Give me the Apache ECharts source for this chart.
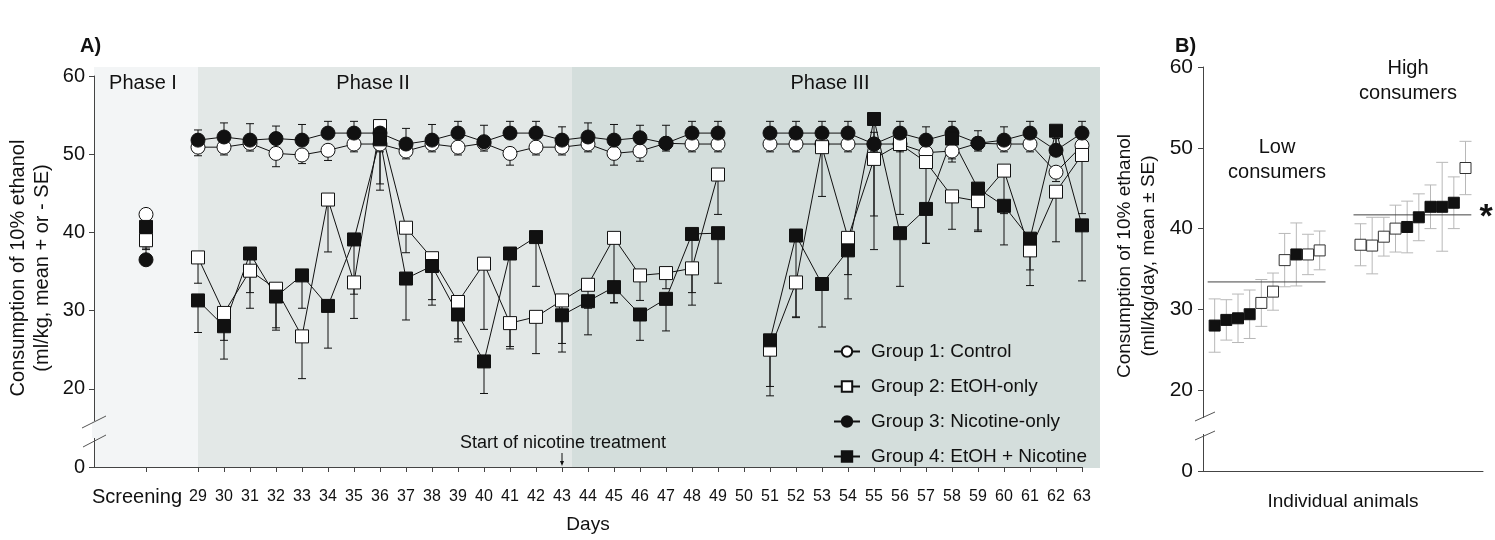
<!DOCTYPE html>
<html lang="en">
<head>
    <meta charset="UTF-8">
    <title>Ethanol consumption</title>
    <style>
        html,body{
            margin: 0;
            padding: 0;
            background: #fff;
        }
        #chart{
            width: 1495px;
            height: 540px;
        }
    </style>
    <script src="https://cdn.jsdelivr.net/npm/echarts@6/dist/echarts.min.js"></script>
</head>
<body>
<div id="chart"></div>
<script>
    // panel A: days on x, screening slot before day 29
    var days = ['29','30','31','32','33','34','35','36','37','38','39','40','41','42','43','44','45','46','47','48','49',
                '50','51','52','53','54','55','56','57','58','59','60','61','62','63'];
    var xCategories = ['pre0', 'pre1', 'Screening', 'pre3'].concat(days);
    var groupNames = ['Group 1: Control', 'Group 2: EtOH-only', 'Group 3: Nicotine-only', 'Group 4: EtOH + Nicotine'];

    // screening values G1..G4
    var screening = [42.3, 39.0, 36.5, 40.7];
    var screeningSe = [0.8, 1.2, 1.5, 1.0];

    var g1Mean = [50.9,50.9,51.4,50.1,49.9,50.5,51.3,51.3,50.4,51.3,50.9,51.4,50.1,50.9,50.9,51.3,50.1,50.4,51.4,51.3,51.3,
                  null,51.3,51.3,51.3,51.3,51.3,51.3,50.2,50.4,51.4,51.3,51.3,47.7,51.1];
    var g1Se = [1.1,1.0,1.0,1.7,1.1,1.3,1.0,1.0,1.0,1.0,1.0,1.0,1.5,1.0,1.0,1.0,1.5,1.3,1.0,1.0,1.0,
                null,1.0,1.0,1.0,1.0,1.0,1.0,1.0,1.0,1.0,1.0,1.0,1.2,1.0];

    var g2Mean = [36.8,29.7,35.1,32.8,26.7,44.2,33.6,53.6,40.6,36.7,31.1,36.0,28.4,29.2,31.3,33.3,39.3,34.5,34.8,35.4,47.4,
                  null,25.0,33.6,50.9,39.3,49.4,51.3,49.0,44.6,44.0,47.9,37.7,45.2,49.9];
    var g2Se = [3.3,3.5,4.8,5.0,5.4,6.7,4.6,7.4,3.2,5.3,4.7,8.4,3.0,4.7,5.5,3.0,8.3,3.2,2.0,4.7,5.1,
                null,5.9,4.5,6.3,4.7,7.3,9.0,10.4,4.2,3.9,5.5,4.5,6.4,7.5];

    var g3Mean = [51.8,52.2,51.8,52.0,51.8,52.7,52.7,52.7,51.3,51.8,52.7,51.6,52.7,52.7,51.8,52.2,51.8,52.1,51.4,52.7,52.7,
                  null,52.7,52.7,52.7,52.7,51.3,52.7,51.8,52.7,51.4,51.8,52.7,50.5,52.7];
    var g3Se = [1.3,1.8,2.1,1.6,2.0,1.5,1.5,1.4,2.0,2.0,1.5,2.1,1.5,1.5,1.7,1.8,2.0,1.6,2.3,1.5,1.5,
                null,1.5,1.5,1.5,1.5,1.5,1.5,1.7,1.5,1.6,1.7,1.5,1.5,1.5];

    var g4Mean = [31.3,28.0,37.3,31.8,34.5,30.6,39.1,51.9,34.1,35.7,29.5,23.5,37.3,39.4,29.4,31.2,33.0,29.5,31.5,39.8,39.9,
                  null,26.2,39.6,33.4,37.7,54.5,39.9,43.0,52.0,45.6,43.4,39.2,53.0,40.9];
    var g4Se = [4.1,4.2,5.0,4.3,4.2,5.4,7.0,6.5,5.3,5.0,3.5,4.1,12.2,6.3,4.7,4.3,2.0,3.3,4.1,7.5,6.4,
                null,5.9,10.4,5.5,6.2,16.7,6.8,4.4,3.0,5.3,5.0,4.0,3.0,7.1];

    // panel B: individual animals, sorted
    var lowRank = [1, 2, 3, 4, 5, 6, 7, 8, 9, 10];
    var lowMean = [28.0, 28.7, 28.9, 29.4, 30.8, 32.2, 36.1, 36.8, 36.8, 37.3];
    var lowSe = [3.3, 2.5, 3.0, 3.0, 2.9, 2.3, 3.3, 3.9, 2.5, 2.4];
    var lowFilled = [1, 1, 1, 1, 0, 0, 0, 1, 0, 0];
    var highRank = [13.5, 14.5, 15.5, 16.5, 17.5, 18.5, 19.5, 20.5, 21.5, 22.5];
    var highMean = [38.0, 37.9, 39.0, 40.0, 40.2, 41.4, 42.7, 42.7, 43.2, 47.5];
    var highSe = [2.6, 3.5, 2.4, 2.9, 3.2, 2.9, 2.7, 5.5, 3.2, 3.3];
    var highFilled = [0, 0, 0, 0, 1, 1, 1, 1, 1, 0];
    var lowGroupMean = 33.4, lowSpan = [0.4, 10.5];
    var highGroupMean = 41.7, highSpan = [12.9, 23.0];

    var FONT = '"Liberation Sans", Arial, sans-serif';
    var INK = '#111';

    function lineData(scr, arr) {
        return [null, null, scr, null].concat(arr);
    }
    // error bar items [categoryIndex, mean, end]
    function errData(scr, scrSe, mean, se, dir) {
        var out = [[2, scr, scr + dir * scrSe]];
        for (var i = 0; i < mean.length; i++) {
            if (mean[i] == null) continue;
            out.push([i + 4, mean[i], mean[i] + dir * se[i]]);
        }
        return out;
    }
    function errBar(cap, color, both) {
        return function (params, api) {
            var x = api.value(0), m = api.value(1), e = api.value(2);
            var lo = both ? api.coord([x, m - e]) : api.coord([x, m]);
            var hi = both ? api.coord([x, m + e]) : api.coord([x, e]);
            var st = {stroke: color, lineWidth: 1};
            var kids = [
                {type: 'line', shape: {x1: lo[0], y1: lo[1], x2: hi[0], y2: hi[1]}, style: st},
                {type: 'line', shape: {x1: hi[0] - cap, y1: hi[1], x2: hi[0] + cap, y2: hi[1]}, style: st}
            ];
            if (both) {
                kids.push({type: 'line', shape: {x1: lo[0] - cap, y1: lo[1], x2: lo[0] + cap, y2: lo[1]}, style: st});
            }
            return {type: 'group', children: kids};
        };
    }
    function groupSeries(name, scr, mean, symbol, size, fill) {
        return {
            name: name,
            type: 'line',
            xAxisIndex: 0, yAxisIndex: 0,
            data: lineData(scr, mean),
            symbol: symbol,
            symbolSize: size,
            showAllSymbol: true,
            connectNulls: false,
            z: 4,
            lineStyle: {color: INK, width: 1},
            itemStyle: {color: fill, borderColor: INK, borderWidth: 1, opacity: 1},
            emphasis: {disabled: true}
        };
    }
    function errSeries(data) {
        return {
            type: 'custom',
            xAxisIndex: 0, yAxisIndex: 0,
            data: data,
            encode: {x: 0, y: 1},
            z: 3,
            silent: true,
            renderItem: errBar(4, INK, false)
        };
    }
    function animalPoints(rank, mean, filled, want) {
        var out = [];
        for (var i = 0; i < rank.length; i++) {
            if (filled[i] === want) out.push([rank[i], mean[i]]);
        }
        return out;
    }
    function animalErr(rank, mean, se) {
        return rank.map(function (r, i) { return [r, mean[i], se[i]]; });
    }

    var chart = echarts.init(document.getElementById('chart'));

    var axisLineStyle = {lineStyle: {color: '#444', width: 1}};
    var option = {
        animation: false,
        backgroundColor: '#fff',
        textStyle: {fontFamily: FONT, color: INK},
        grid: [
            {left: 94, top: 76, width: 988, height: 391, outerBoundsMode: 'none', containLabel: false},
            {left: 1203, top: 67, width: 280, height: 404, outerBoundsMode: 'none', containLabel: false}
        ],
        legend: {
            data: groupNames,
            orient: 'vertical',
            left: 828,
            top: 337,
            itemWidth: 26,
            itemHeight: 13,
            itemGap: 16,
            selectedMode: false,
            textStyle: {fontFamily: FONT, fontSize: 19, color: INK, padding: [0, 0, 0, 6]}
        },
        xAxis: [
            {
                type: 'category',
                gridIndex: 0,
                data: xCategories,
                boundaryGap: false,
                axisLine: axisLineStyle,
                axisTick: {
                    length: 5,
                    lineStyle: {color: '#444'},
                    interval: function (i, v) { return v.indexOf('pre') !== 0; }
                },
                axisLabel: {
                    interval: function (i, v) { return v.indexOf('pre') !== 0; },
                    formatter: function (v) { return v === 'Screening' ? '{s|Screening}' : v; },
                    fontFamily: FONT,
                    fontSize: 16,
                    color: INK,
                    margin: 30,
                    verticalAlign: 'middle',
                    rich: {s: {fontSize: 20, fontFamily: FONT, color: INK, padding: [0, 18, 0, 0]}}
                },
                splitLine: {show: false},
                name: 'Days',
                nameLocation: 'middle',
                nameGap: 48,
                nameTextStyle: {fontFamily: FONT, fontSize: 19, color: INK}
            },
            {
                type: 'value',
                gridIndex: 1,
                min: 0,
                max: 24,
                axisLine: axisLineStyle,
                axisTick: {show: false},
                axisLabel: {show: false},
                splitLine: {show: false},
                name: 'Individual animals',
                nameLocation: 'middle',
                nameGap: 21,
                nameTextStyle: {fontFamily: FONT, fontSize: 19, color: INK}
            }
        ],
        yAxis: [
            {
                type: 'value',
                gridIndex: 0,
                min: 10,
                max: 60,
                interval: 10,
                axisLine: {show: true, lineStyle: {color: '#444'}},
                axisTick: {show: true, length: 5, lineStyle: {color: '#444'}},
                axisLabel: {
                    formatter: function (v) { return v === 10 ? '0' : String(v); },
                    fontFamily: FONT, fontSize: 20, color: INK, margin: 9
                },
                splitLine: {show: false}
            },
            {
                type: 'value',
                gridIndex: 1,
                min: 10,
                max: 60,
                interval: 10,
                axisLine: {show: true, lineStyle: {color: '#444'}},
                axisTick: {show: true, length: 5, lineStyle: {color: '#444'}},
                axisLabel: {
                    formatter: function (v) { return v === 10 ? '0' : String(v); },
                    fontFamily: FONT, fontSize: 21, color: INK, margin: 10
                },
                splitLine: {show: false}
            }
        ],
        series: [
            errSeries(errData(screening[0], screeningSe[0], g1Mean, g1Se, -1)),
            errSeries(errData(screening[1], screeningSe[1], g2Mean, g2Se, -1)),
            errSeries(errData(screening[2], screeningSe[2], g3Mean, g3Se, 1)),
            errSeries(errData(screening[3], screeningSe[3], g4Mean, g4Se, -1)),
            groupSeries(groupNames[0], screening[0], g1Mean, 'circle', 14, '#fff'),
            groupSeries(groupNames[1], screening[1], g2Mean, 'rect', 13, '#fff'),
            groupSeries(groupNames[2], screening[2], g3Mean, 'circle', 14, INK),
            groupSeries(groupNames[3], screening[3], g4Mean, 'rect', 13, INK),

            // panel B
            {
                type: 'custom',
                xAxisIndex: 1, yAxisIndex: 1,
                data: animalErr(lowRank, lowMean, lowSe).concat(animalErr(highRank, highMean, highSe)),
                encode: {x: 0, y: 1},
                z: 2,
                silent: true,
                renderItem: errBar(6, '#b8b8b8', true)
            },
            {
                type: 'line',
                xAxisIndex: 1, yAxisIndex: 1,
                data: [[lowSpan[0], lowGroupMean], [lowSpan[1], lowGroupMean]],
                symbol: 'none',
                lineStyle: {color: '#444', width: 1},
                z: 3, silent: true
            },
            {
                type: 'line',
                xAxisIndex: 1, yAxisIndex: 1,
                data: [[highSpan[0], highGroupMean], [highSpan[1], highGroupMean]],
                symbol: 'none',
                lineStyle: {color: '#444', width: 1},
                z: 3, silent: true
            },
            {
                type: 'scatter',
                xAxisIndex: 1, yAxisIndex: 1,
                data: animalPoints(lowRank, lowMean, lowFilled, 0).concat(animalPoints(highRank, highMean, highFilled, 0)),
                symbol: 'rect',
                symbolSize: 11,
                itemStyle: {color: '#fff', borderColor: '#333', borderWidth: 1, opacity: 1},
                z: 4, silent: true
            },
            {
                type: 'scatter',
                xAxisIndex: 1, yAxisIndex: 1,
                data: animalPoints(lowRank, lowMean, lowFilled, 1).concat(animalPoints(highRank, highMean, highFilled, 1)),
                symbol: 'rect',
                symbolSize: 11,
                itemStyle: {color: INK, borderColor: INK, borderWidth: 1, opacity: 1},
                z: 4, silent: true
            }
        ],
        graphic: [
            // phase shading
            {type: 'rect', z: -10, shape: {x: 94, y: 67, width: 104, height: 401}, style: {fill: '#f3f5f6'}},
            {type: 'rect', z: -10, shape: {x: 198, y: 67, width: 374, height: 401}, style: {fill: '#e3e8e7'}},
            {type: 'rect', z: -10, shape: {x: 572, y: 67, width: 528, height: 401}, style: {fill: '#d4dedc'}},
            {type: 'text', z: 50, x: 143, y: 83, style: {text: 'Phase I', font: '20px ' + FONT, fill: INK, textAlign: 'center', textVerticalAlign: 'middle'}},
            {type: 'text', z: 50, x: 373, y: 83, style: {text: 'Phase II', font: '20px ' + FONT, fill: INK, textAlign: 'center', textVerticalAlign: 'middle'}},
            {type: 'text', z: 50, x: 830, y: 83, style: {text: 'Phase III', font: '20px ' + FONT, fill: INK, textAlign: 'center', textVerticalAlign: 'middle'}},
            // panel letters
            {type: 'text', z: 50, x: 80, y: 46, style: {text: 'A)', font: 'bold 20px ' + FONT, fill: INK, textVerticalAlign: 'middle'}},
            {type: 'text', z: 50, x: 1175, y: 46, style: {text: 'B)', font: 'bold 20px ' + FONT, fill: INK, textVerticalAlign: 'middle'}},
            // nicotine start marker
            {type: 'text', z: 50, x: 563, y: 443, style: {text: 'Start of nicotine treatment', font: '18px ' + FONT, fill: INK, textAlign: 'center', textVerticalAlign: 'middle'}},
            {type: 'line', z: 50, shape: {x1: 562, y1: 453, x2: 562, y2: 464}, style: {stroke: INK, lineWidth: 1}},
            {type: 'polygon', z: 50, shape: {points: [[560, 461], [564, 461], [562, 466]]}, style: {fill: INK}},
            // y axis titles
            {type: 'text', z: 50, x: 30, y: 268, rotation: Math.PI / 2,
             style: {text: 'Consumption of 10% ethanol\n(ml/kg, mean + or - SE)', font: '20px ' + FONT, lineHeight: 24, fill: INK, textAlign: 'center', textVerticalAlign: 'middle'}},
            {type: 'text', z: 50, x: 1137, y: 256, rotation: Math.PI / 2,
             style: {text: 'Consumption of 10% ethanol\n(mll/kg/day, mean \u00b1 SE)', font: '19px ' + FONT, lineHeight: 24, fill: INK, textAlign: 'center', textVerticalAlign: 'middle'}},
            // panel B group labels
            {type: 'text', z: 50, x: 1277, y: 160, style: {text: 'Low\nconsumers', font: '20px ' + FONT, lineHeight: 25, fill: INK, textAlign: 'center', textVerticalAlign: 'middle'}},
            {type: 'text', z: 50, x: 1408, y: 81, style: {text: 'High\nconsumers', font: '20px ' + FONT, lineHeight: 25, fill: INK, textAlign: 'center', textVerticalAlign: 'middle'}},
            {type: 'text', z: 50, x: 1486, y: 218, style: {text: '*', font: 'bold 34px ' + FONT, fill: INK, textAlign: 'center', textVerticalAlign: 'middle'}},
            // axis breaks
            {type: 'rect', z: 40, shape: {x: 92, y: 421, width: 4, height: 17}, style: {fill: '#f3f5f6'}},
            {type: 'line', z: 50, shape: {x1: 82, y1: 428, x2: 106, y2: 416}, style: {stroke: '#555', lineWidth: 1}},
            {type: 'line', z: 50, shape: {x1: 83, y1: 447, x2: 106, y2: 435}, style: {stroke: '#555', lineWidth: 1}},
            {type: 'rect', z: 40, shape: {x: 1201, y: 418, width: 4, height: 16}, style: {fill: '#fff'}},
            {type: 'line', z: 50, shape: {x1: 1195, y1: 421, x2: 1215, y2: 412}, style: {stroke: '#555', lineWidth: 1}},
            {type: 'line', z: 50, shape: {x1: 1195, y1: 440, x2: 1215, y2: 431}, style: {stroke: '#555', lineWidth: 1}}
        ]
    };

    chart.setOption(option);
</script>
</body>
</html>
